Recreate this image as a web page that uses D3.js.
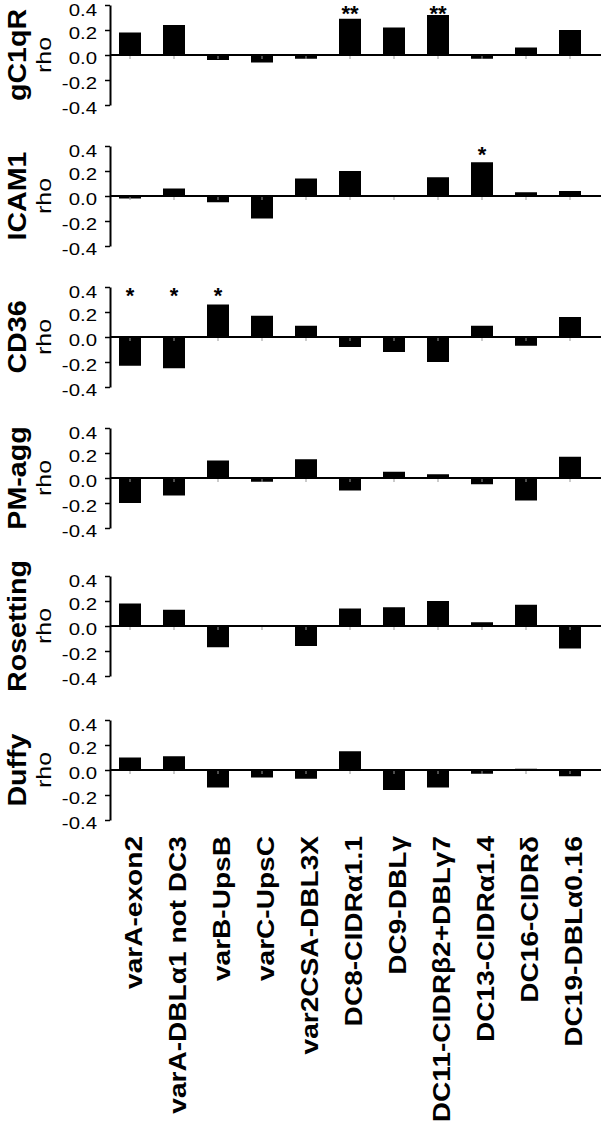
<!DOCTYPE html>
<html>
<head>
<meta charset="utf-8">
<script src="https://cdn.jsdelivr.net/npm/d3@7"></script>
<style>
  body { margin: 0; background: #fff; }
  svg { display: block; font-family: "Liberation Sans", Arial, Helvetica, sans-serif; }
</style>
</head>
<body>
<script>
// Data.
var categories = ["varA-exon2", "varA-DBLα1 not DC3", "varB-UpsB", "varC-UpsC",
  "var2CSA-DBL3X", "DC8-CIDRα1.1", "DC9-DBLγ", "DC11-CIDRβ2+DBLγ7",
  "DC13-CIDRα1.4", "DC16-CIDRδ", "DC19-DBLα0.16"];
var panelNames = ["gC1qR", "ICAM1", "CD36", "PM-agg", "Rosetting", "Duffy"];
var gC1qR = [0.18, 0.24, -0.04, -0.06, -0.03, 0.29, 0.22, 0.32, -0.03, 0.06, 0.20];
var icam1 = [-0.02, 0.06, -0.05, -0.18, 0.14, 0.20, 0.00, 0.15, 0.27, 0.03, 0.04];
var cd36 = [-0.23, -0.25, 0.26, 0.17, 0.09, -0.08, -0.12, -0.20, 0.09, -0.07, 0.16];
var pmAgg = [-0.20, -0.14, 0.14, -0.03, 0.15, -0.10, 0.05, 0.03, -0.05, -0.18, 0.17];
var rosetting = [0.18, 0.13, -0.17, 0.00, -0.16, 0.14, 0.15, 0.20, 0.03, 0.17, -0.18];
var duffy = [0.10, 0.11, -0.14, -0.06, -0.07, 0.15, -0.16, -0.14, -0.03, 0.01, -0.05];
var gC1qRSig = ["", "", "", "", "", "**", "", "**", "", "", ""];
var icam1Sig = ["", "", "", "", "", "", "", "", "*", "", ""];
var cd36Sig = ["*", "*", "*", "", "", "", "", "", "", "", ""];
var yTicks = [0.4, 0.2, 0.0, -0.2, -0.4];

var series = [gC1qR, icam1, cd36, pmAgg, rosetting, duffy],
  stars = [gC1qRSig, icam1Sig, cd36Sig, null, null, null];

// Layout.
var width = 601,
  height = 1124,
  axisX = 110,
  pxPerUnit = 125,
  panelZero = [55, 196, 337, 478, 626, 770],
  labelTop = 836;

var svg = d3.select("body").append("svg")
  .attr("width", width)
  .attr("height", height);

var x = d3.scaleBand()
  .domain(categories)
  .range([108, 592])
  .paddingInner(0.5)
  .paddingOuter(0.25);

series.forEach(function(values, p) {
  var y0 = panelZero[p];
  var y = d3.scaleLinear()
    .domain([-0.4, 0.4])
    .range([y0 + 0.4 * pxPerUnit, y0 - 0.4 * pxPerUnit]);

  var g = svg.append("g");

  // Bars.
  g.selectAll("rect")
    .data(values)
    .enter().append("rect")
      .attr("x", function(d, i) { return x(categories[i]); })
      .attr("width", x.bandwidth())
      .attr("y", function(d) { return y(Math.max(0, d)); })
      .attr("height", function(d) { return Math.abs(y(d) - y(0)); })
      .attr("fill", "#000");

  // Small category ticks under the zero line.
  g.selectAll("line.cat")
    .data(categories)
    .enter().append("line")
      .attr("class", "cat")
      .attr("x1", function(d) { return x(d) + x.bandwidth() / 2; })
      .attr("x2", function(d) { return x(d) + x.bandwidth() / 2; })
      .attr("y1", y(0))
      .attr("y2", y(0) + 4)
      .attr("stroke", "#999")
      .attr("stroke-width", 1);

  // Zero line across the panel.
  g.append("line")
    .attr("x1", axisX)
    .attr("x2", width)
    .attr("y1", y(0))
    .attr("y2", y(0))
    .attr("stroke", "#000")
    .attr("stroke-width", 2);

  // Y axis.
  var axis = g.append("g")
    .attr("transform", "translate(" + axisX + ",0)")
    .call(d3.axisLeft(y)
      .tickValues(yTicks)
      .tickSize(5)
      .tickSizeOuter(0)
      .tickFormat(function(d) { return d.toFixed(1); }));
  axis.select(".domain").attr("stroke-width", 2);
  axis.selectAll(".tick line").attr("stroke-width", 1.5);
  // the figure's type runs wide, so stretch it sideways
  axis.selectAll(".tick text")
    .attr("x", 0)
    .attr("dy", function(d) { return d === 0.4 ? "0.62em" : "0.5em"; })
    .attr("transform", "translate(-13,0) scale(1.2,1)")
    .attr("font-size", 17)
    .attr("font-family", "Liberation Sans, Arial, sans-serif")
    .attr("fill", "#000");

  // Panel title and rho label.
  svg.append("text")
    .attr("transform", "translate(26," + y0 + ") rotate(-90) scale(1.1,1)")
    .attr("text-anchor", "middle")
    .attr("font-size", 26)
    .attr("font-weight", "bold")
    .text(panelNames[p]);
  svg.append("text")
    .attr("transform", "translate(51," + y0 + ") rotate(-90) scale(1.25,1)")
    .attr("text-anchor", "middle")
    .attr("font-size", 20)
    .text("rho");

  // Significance stars.
  if (stars[p]) {
    g.selectAll("text.star")
      .data(stars[p])
      .enter().append("text")
        .attr("class", "star")
        .attr("x", function(d, i) { return x(categories[i]) + x.bandwidth() / 2; })
        .attr("y", y(0.37) + 22 * 0.55)
        .attr("text-anchor", "middle")
        .attr("font-size", 22)
        .attr("font-weight", "bold")
        .text(function(d) { return d; });
  }
});

// Category labels, rotated.
svg.append("g").selectAll("text")
  .data(categories)
  .enter().append("text")
    .attr("transform", function(d) {
      return "translate(" + (x(d) + x.bandwidth() / 2 + 12) + "," + labelTop + ") rotate(-90) scale(1.17,1)";
    })
    .attr("text-anchor", "end")
    .attr("font-size", 24)
    .attr("font-weight", "bold")
    .text(function(d) { return d; });
</script>
</body>
</html>
